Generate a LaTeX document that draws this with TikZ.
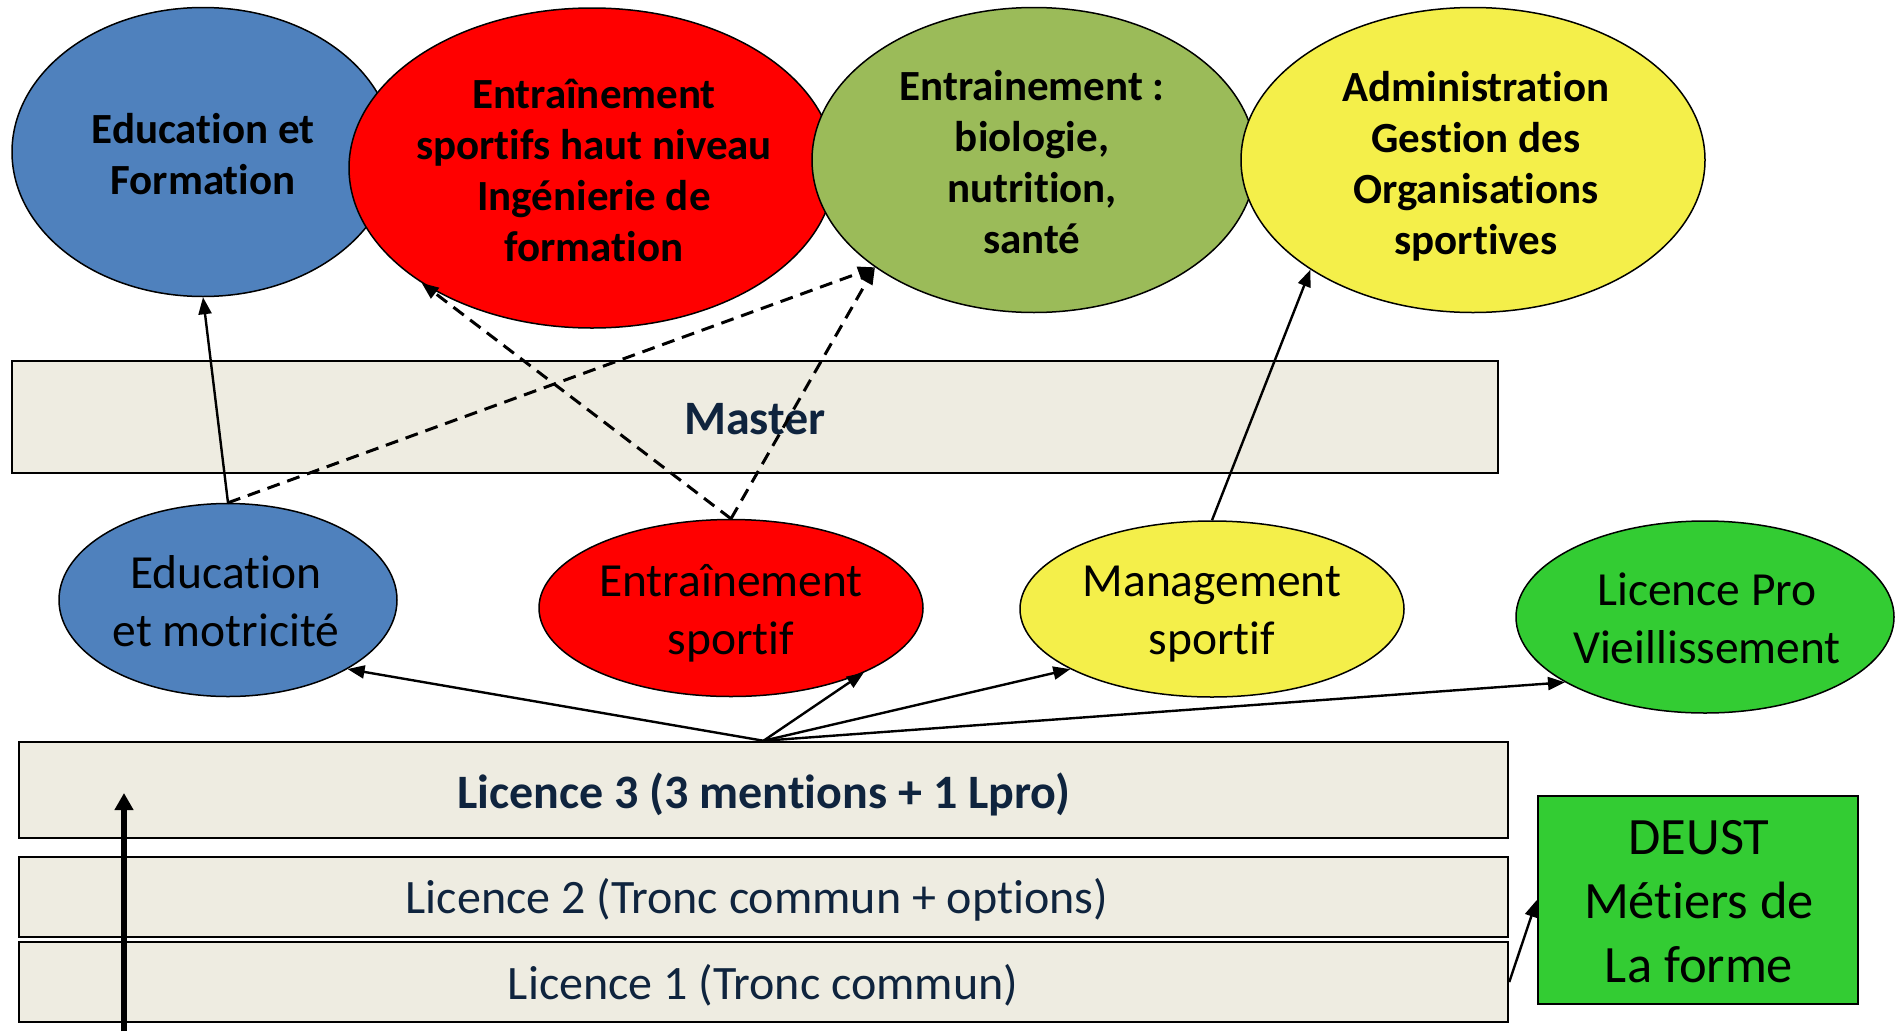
\documentclass[tikz,border=0pt]{standalone}
\usepackage{fontspec}
\setmainfont{Carlito}[Ligatures=NoCommon]
\usetikzlibrary{shapes.geometric,arrows.meta}
\definecolor{cblue}{HTML}{4F81BD}
\definecolor{cred}{HTML}{FF0000}
\definecolor{colive}{HTML}{9BBB59}
\definecolor{cyellow}{HTML}{F4EF4A}
\definecolor{cgreen}{HTML}{33CC33}
\definecolor{boxfill}{HTML}{EEECE1}
\definecolor{navy}{HTML}{0F243E}
\begin{document}
\begin{tikzpicture}[x=1pt,y=-1pt,
  ell/.style={ellipse,draw=black,line width=1.5pt,inner sep=-40pt,align=center,text=black},
  topell/.style={ell,font=\fontsize{43}{51}\selectfont\bfseries},
  midell/.style={ell,font=\fontsize{47.5}{58}\selectfont},
  lbox/.style={rectangle,draw=black,line width=2.5pt,fill=boxfill,inner sep=0pt,text=navy},
  ltext/.style={font=\fontsize{48}{56}\selectfont,text=navy},
  arr/.style={line width=2.4pt,-{Triangle[length=17pt,width=13pt]}},
  darr/.style={arr,line width=3pt,dash pattern=on 13pt off 8pt},
  thickarr/.style={line width=6pt,-{Triangle[length=17pt,width=18pt]}},
]
\useasboundingbox (0,0) rectangle (1895,1031);
% top ellipses
\node[topell,fill=cblue,minimum width=382pt,minimum height=289pt] (edf) at (203,152) {};
\node[topell,fill=cred,minimum width=486pt,minimum height=320pt] (esh) at (592,168) {};
\node[topell,fill=colive,minimum width=444pt,minimum height=305pt] (ent) at (1034,160) {};
\node[topell,fill=cyellow,minimum width=464pt,minimum height=305pt] (ago) at (1473,160) {};
\node[align=center,font=\fontsize{43}{51}\selectfont\bfseries] (tedf) at (203,154) {Education et\\Formation};
\node[align=center,font=\fontsize{43}{51}\selectfont\bfseries] (tesh) at (594,170) {Entraînement\\sportifs haut niveau\\Ingénierie de\\formation};
\node[align=center,font=\fontsize{43}{51}\selectfont\bfseries] (tent) at (1032,162) {Entrainement :\\biologie,\\nutrition,\\santé};
\node[align=center,font=\fontsize{43}{51}\selectfont\bfseries] (tago) at (1476,166) {Administration\\Gestion des\\Organisations\\sportives};
% master
\node[lbox,minimum width=1486pt,minimum height=112pt] (master) at (755,417) {};
\node[ltext,font=\fontsize{48}{56}\selectfont\bfseries] (tmaster) at (755,419) {Master};
% middle ellipses
\node[midell,fill=cblue,minimum width=338pt,minimum height=193pt] (emot) at (228,600) {};
\node[midell,fill=cred,minimum width=384pt,minimum height=177pt] (es) at (731,608) {};
\node[midell,fill=cyellow,minimum width=384pt,minimum height=176pt] (ms) at (1212,609) {};
\node[midell,fill=cgreen,minimum width=378pt,minimum height=192pt] (lpro) at (1705,617) {};
\node[align=center,font=\fontsize{47.5}{58}\selectfont] (temot) at (226,601) {Education\\et motricité};
\node[align=center,font=\fontsize{47.5}{58}\selectfont] (tes) at (731,613) {Entraînement\\sportif};
\node[align=center,font=\fontsize{47.5}{58}\selectfont] (tms) at (1212,614) {Management\\sportif};
\node[align=center,font=\fontsize{47.5}{58}\selectfont] (tlpro) at (1707,618) {Licence Pro\\Vieillissement};
% licence boxes
\node[lbox,minimum width=1489pt,minimum height=96pt] (l3) at (763.5,790) {};
\node[lbox,minimum width=1489pt,minimum height=80pt] (l2) at (763.5,897) {};
\node[lbox,minimum width=1489pt,minimum height=80pt] (l1) at (763.5,982) {};
\node[ltext,font=\fontsize{48}{56}\selectfont\bfseries] (tl3) at (764,794) {Licence 3 (3 mentions + 1 Lpro)};
\node[ltext] (tl2) at (757,900) {Licence 2 (Tronc commun + options)};
\node[ltext] (tl1) at (763,985) {Licence 1 (Tronc commun)};
% DEUST
\node[rectangle,draw=black,line width=2.5pt,fill=cgreen,inner sep=0pt,minimum width=320pt,minimum height=208pt] (deust) at (1698,900) {};
\node[align=center,font=\fontsize{52.5}{64}\selectfont] (tdeust) at (1699,902) {DEUST\\Métiers de\\La forme};
% connectors
\draw[arr] (emot.north) -- (edf.south);
\draw[darr] (emot.north) -- (ent.214.8);
\draw[darr] (es.north) -- (esh.214.7);
\draw[darr] (es.north) -- (ent.214.8);
\draw[arr] (ms.north) -- (ago.214.5);
\draw[arr] (l3.north) -- (emot.330.5);
\draw[arr] (l3.north) -- (es.334.8);
\draw[arr] (l3.north) -- (ms.203.3);
\draw[arr] (l3.north) -- (lpro.205.6);
\draw[arr] (l1.east) -- (deust.west);
\coordinate (tb) at (124,1031);
\coordinate (tt) at (124,793);
\draw[thickarr] (tb) -- (tt);
\end{tikzpicture}
\end{document}
